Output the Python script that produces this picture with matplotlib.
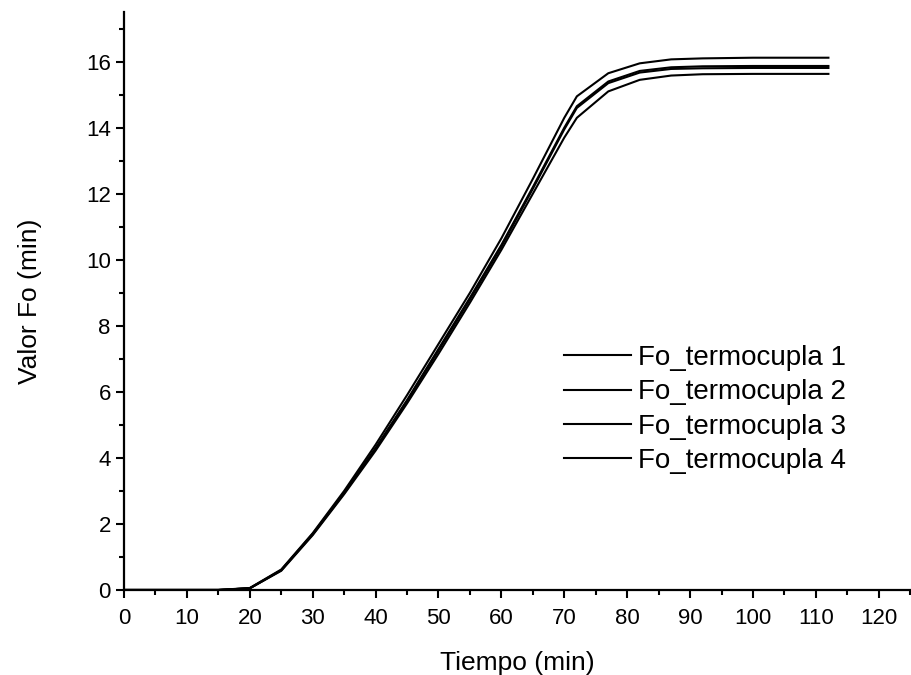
import matplotlib.pyplot as plt
from matplotlib.ticker import MultipleLocator

plt.rcParams['font.family'] = ['Liberation Sans', 'DejaVu Sans']

# Tiempo (min)
tiempo = [0, 5, 10, 15, 20, 25, 30, 35, 40, 45, 50, 55, 60, 65, 70, 72, 77, 82, 87, 92, 100, 112]

# Valor Fo (min) per thermocouple
fo_1 = [0, 0, 0, 0, 0.06, 0.62, 1.72, 3.0, 4.4, 5.9, 7.45, 9.0, 10.65, 12.45, 14.3, 14.95, 15.65, 15.95, 16.07, 16.1, 16.12, 16.12]
fo_2 = [0, 0, 0, 0, 0.05, 0.6, 1.7, 2.95, 4.3, 5.75, 7.3, 8.85, 10.45, 12.2, 14.0, 14.65, 15.4, 15.72, 15.83, 15.86, 15.87, 15.87]
fo_3 = [0, 0, 0, 0, 0.05, 0.6, 1.68, 2.93, 4.27, 5.72, 7.25, 8.8, 10.4, 12.15, 13.95, 14.6, 15.35, 15.67, 15.78, 15.8, 15.81, 15.81]
fo_4 = [0, 0, 0, 0, 0.05, 0.58, 1.66, 2.9, 4.22, 5.65, 7.15, 8.7, 10.3, 12.0, 13.7, 14.3, 15.1, 15.45, 15.58, 15.62, 15.63, 15.63]

series = [fo_1, fo_2, fo_3, fo_4]
labels = ['Fo_termocupla 1', 'Fo_termocupla 2', 'Fo_termocupla 3', 'Fo_termocupla 4']

fig = plt.figure(figsize=(9.12, 6.75), dpi=100)
ax = fig.add_axes([0.136, 0.126, 0.862, 0.856])

for vals, lab in zip(series, labels):
    ax.plot(tiempo, vals, color='black', linewidth=1.5, label=lab)

ax.set_xlim(0, 125)
ax.set_ylim(0, 17.5)
ax.xaxis.set_major_locator(MultipleLocator(10))
ax.xaxis.set_minor_locator(MultipleLocator(5))
ax.yaxis.set_major_locator(MultipleLocator(2))
ax.yaxis.set_minor_locator(MultipleLocator(1))

for side in ['top', 'right']:
    ax.spines[side].set_visible(False)
for side in ['left', 'bottom']:
    ax.spines[side].set_linewidth(1.6)

ax.tick_params(which='major', direction='out', length=6, width=1.5, labelsize=16)
ax.tick_params(which='minor', direction='out', length=3.5, width=1.5)
ax.tick_params(axis='x', which='major', pad=7)

ax.set_xlabel('Tiempo (min)', fontsize=19, labelpad=16)
ax.set_ylabel('Valor Fo (min)', fontsize=19, labelpad=32)

ax.legend(loc='upper left', bbox_to_anchor=(0.56, 0.424), frameon=False,
          fontsize=20, borderpad=0, borderaxespad=0, labelspacing=0.3,
          handlelength=2.4, handletextpad=0.27)

fig.savefig('out.png', dpi=100)
